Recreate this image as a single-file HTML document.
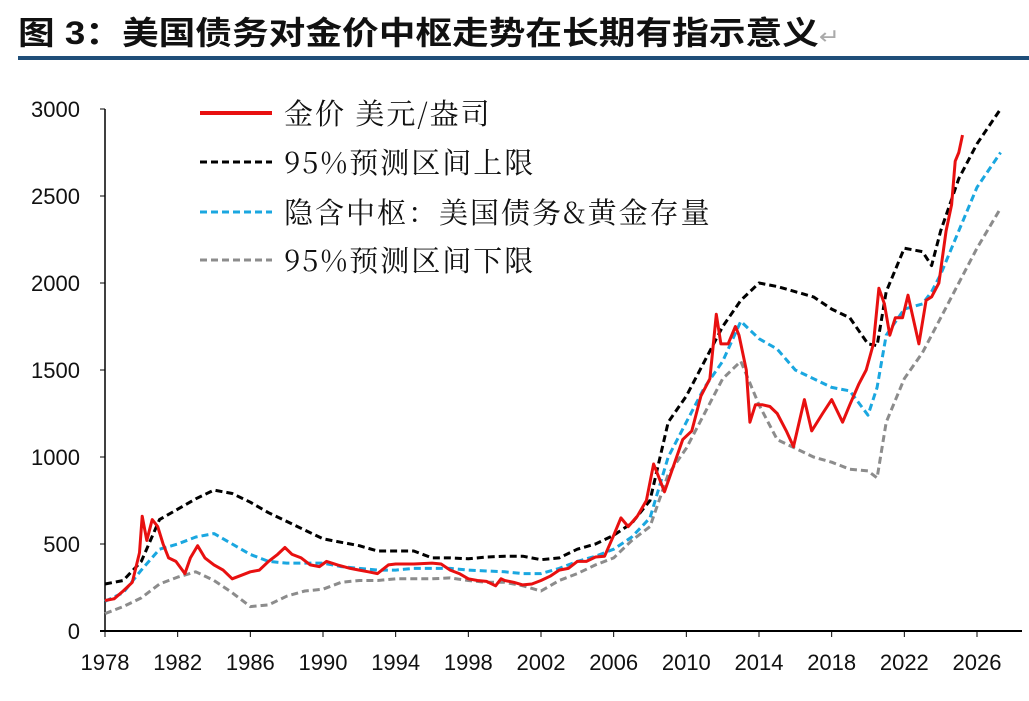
<!DOCTYPE html>
<html><head><meta charset="utf-8"><style>
body{margin:0;background:#fff;width:1029px;height:696px;overflow:hidden}
svg text{font-family:"Liberation Sans","Noto Sans CJK SC",sans-serif}
</style></head><body>
<svg width="1029" height="696">
<text x="18" y="44" font-size="32" font-weight="bold" fill="#111" textLength="822" lengthAdjust="spacingAndGlyphs">图 3：美国债务对金价中枢走势在长期有指示意义<tspan fill="#aaa" font-weight="normal" font-size="22">↵</tspan></text>
<rect x="18" y="56" width="1011" height="4" fill="#1f4e79"/>
<g id="axes"></g><g id="series"></g>
<g font-size="29" fill="#111">
<line x1="200" y1="113" x2="272" y2="113" stroke="#e81010" stroke-width="4"/>
<text x="284" y="124" letter-spacing="2" style="font-family:'Noto Serif CJK SC',serif">金价 美元/盎司</text>
<line x1="200" y1="162" x2="272" y2="162" stroke="#000" stroke-width="3" stroke-dasharray="7,4"/>
<text x="284" y="173" letter-spacing="2" style="font-family:'Noto Serif CJK SC',serif">95%预测区间上限</text>
<line x1="200" y1="212" x2="272" y2="212" stroke="#1aa7e0" stroke-width="3" stroke-dasharray="7,4"/>
<text x="284" y="223" letter-spacing="2" style="font-family:'Noto Serif CJK SC',serif">隐含中枢：美国债务&amp;黄金存量</text>
<line x1="200" y1="260" x2="272" y2="260" stroke="#8c8c8c" stroke-width="3" stroke-dasharray="7,4"/>
<text x="284" y="271" letter-spacing="2" style="font-family:'Noto Serif CJK SC',serif">95%预测区间下限</text>
</g>
</svg>
<script>
const yTicks=[0,500,1000,1500,2000,2500,3000];
const xTicks=[1978,1982,1986,1990,1994,1998,2002,2006,2010,2014,2018,2022,2026];
const goldX=[1978,1978.5,1979,1979.5,1979.9,1980.05,1980.3,1980.6,1980.9,1981.2,1981.5,1981.9,1982.4,1982.7,1983.1,1983.5,1984,1984.5,1985,1985.5,1986,1986.5,1987,1987.5,1987.9,1988.3,1988.8,1989.3,1989.8,1990.2,1990.8,1991.5,1992,1992.5,1993,1993.6,1994,1995,1996,1996.5,1997,1997.5,1998,1998.5,1999,1999.5,1999.8,2000,2000.5,2001,2001.5,2002,2002.5,2003,2003.5,2004,2004.5,2005,2005.5,2006,2006.4,2006.8,2007.3,2007.8,2008.2,2008.8,2009.2,2009.8,2010.3,2010.8,2011.3,2011.65,2011.9,2012.3,2012.7,2012.9,2013.3,2013.5,2013.8,2014.2,2014.6,2015,2015.5,2015.9,2016.5,2016.9,2017.5,2018,2018.6,2019,2019.5,2019.9,2020.3,2020.6,2020.9,2021.2,2021.5,2021.9,2022.2,2022.8,2023.2,2023.5,2023.9,2024.3,2024.6,2024.8,2025.0,2025.2];
const goldY=[175,185,230,280,450,660,520,640,600,500,420,400,330,420,490,420,380,350,300,320,340,350,400,440,480,440,420,380,370,400,380,360,350,340,330,380,385,385,390,385,350,330,300,290,285,260,300,290,280,265,270,290,315,350,360,400,400,425,430,550,650,600,660,750,960,800,920,1100,1150,1350,1450,1820,1650,1650,1750,1700,1500,1200,1300,1300,1290,1250,1150,1060,1330,1150,1250,1330,1200,1300,1420,1500,1650,1970,1880,1700,1800,1800,1930,1650,1900,1920,2000,2300,2450,2700,2750,2850];
const bandX=[1978,1979,1980,1981,1982,1983,1984,1985,1986,1987,1988,1989,1990,1991,1992,1993,1994,1995,1996,1997,1998,1999,2000,2001,2002,2003,2004,2005,2006,2007,2008,2009,2010,2011,2012,2013,2014,2015,2016,2017,2018,2019,2020,2020.5,2021,2022,2023,2023.5,2024,2025,2026,2027.3];
const upperY=[270,290,400,640,700,760,810,790,740,680,630,580,530,510,490,460,460,460,420,420,415,425,430,430,410,420,470,500,550,620,750,1200,1350,1550,1750,1900,2000,1980,1950,1920,1850,1800,1650,1640,1950,2200,2180,2100,2300,2600,2800,3000];
const centerY=[170,220,350,470,500,540,560,500,440,400,390,390,390,370,360,350,350,360,360,360,350,345,340,330,330,360,400,430,470,540,650,1000,1200,1400,1550,1780,1680,1620,1500,1450,1400,1380,1240,1400,1700,1850,1880,1950,2050,2300,2550,2750];
const lowerY=[100,140,190,270,310,340,290,220,140,150,200,230,240,280,290,290,300,300,300,305,290,280,280,260,230,290,330,380,420,520,600,900,1050,1250,1450,1550,1300,1100,1050,1000,970,930,920,880,1200,1450,1600,1700,1800,2000,2200,2430];
const NS='http://www.w3.org/2000/svg';
const X=v=>105+(v-1978)*(872/48), Y=v=>631-v*(522/3000);
function mk(t,a,p){const e=document.createElementNS(NS,t);for(const k in a)e.setAttribute(k,a[k]);p.appendChild(e);return e;}
const ax=document.getElementById('axes'), se=document.getElementById('series');
const yl=mk('line',{x1:105,y1:Y(3000),x2:105,y2:631,stroke:'#000','stroke-width':1.5},ax);


const xl=mk('line',{x1:100,y1:631,x2:1022,y2:631,stroke:'#000','stroke-width':2},ax);


yTicks.forEach(v=>{mk('line',{x1:100,y1:Y(v),x2:105,y2:Y(v),stroke:'#000'},ax);
const t=mk('text',{x:80,y:Y(v)+8,'font-size':22,'text-anchor':'end',fill:'#111'},ax);t.textContent=v;

});
xTicks.forEach(v=>{mk('line',{x1:X(v),y1:631,x2:X(v),y2:637,stroke:'#000'},ax);
const t=mk('text',{x:X(v),y:670,'font-size':22,'text-anchor':'middle',fill:'#111'},ax);t.textContent=v;

});
function line(xs,ys,col,w,dash,name){const d=xs.map((x,i)=>(i?'L':'M')+X(x).toFixed(1)+','+Y(ys[i]).toFixed(1)).join('');
const p=mk('path',{d:d,fill:'none',stroke:col,'stroke-width':w,'stroke-linejoin':'round'},se);if(dash)p.setAttribute('stroke-dasharray',dash);

}
line(bandX,lowerY,'#8c8c8c',3,'7,4','lower-bound-line');
line(bandX,upperY,'#000',3,'7,4','upper-bound-line');
line(bandX,centerY,'#1aa7e0',3,'7,4','center-line');
line(goldX,goldY,'#e81010',3,null,'gold-price-line');
</script>
</body></html>
